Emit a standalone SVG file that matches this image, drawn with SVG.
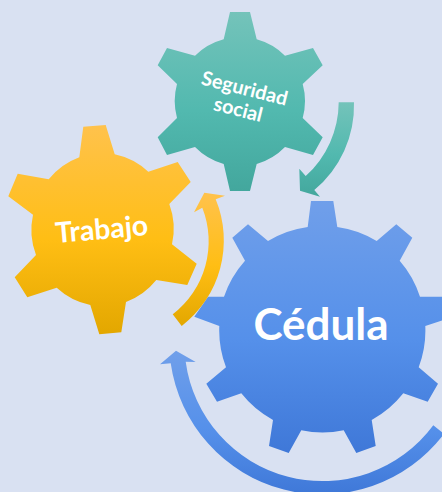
<svg xmlns="http://www.w3.org/2000/svg" width="442" height="492" viewBox="0 0 442 492">
<style>
text{font-family:"Lato","Open Sans","Liberation Sans",sans-serif;font-weight:700;fill:#fff;text-anchor:middle}
</style>
<defs>
<linearGradient id="gt" x1="0" y1="0" x2="0" y2="1"><stop offset="0" stop-color="#74c3ba"/><stop offset=".55" stop-color="#52b9af"/><stop offset="1" stop-color="#43a79d"/></linearGradient>
<linearGradient id="gy" x1="0" y1="0" x2="0" y2="1"><stop offset="0" stop-color="#ffc24c"/><stop offset=".55" stop-color="#ffbe14"/><stop offset="1" stop-color="#e3a700"/></linearGradient>
<linearGradient id="gb" x1="0" y1="0" x2="0" y2="1"><stop offset="0" stop-color="#709fea"/><stop offset=".55" stop-color="#5590ea"/><stop offset="1" stop-color="#3f78d8"/></linearGradient>
</defs>
<rect width="442" height="492" fill="#d9e1f2"/>
<g id="seguridad-social">
<path fill="url(#gt)" d="M230 12H250L256.700 39.300A64.500 64.500 0 0 1 285 55.700L313 48L322.700 65.300L302.700 84A64.500 64.500 0 0 1 302.700 118L322.700 137.300L313 155L285 147A64.500 64.500 0 0 1 256.700 164L250 191H230L223.700 164A64.500 64.500 0 0 1 195 147L167 155L157.700 137.300L177 118A64.500 64.500 0 0 1 177 84L157.700 65.300L167 48L195 55.700A64.500 64.500 0 0 1 223.700 39.300Z"/>
<text font-size="19.800" transform="translate(243 95) rotate(14)">Seguridad</text>
<text font-size="19.800" transform="translate(236.500 116) rotate(14)">social</text>
</g>
<g id="trabajo">
<path fill="url(#gy)" d="M83.300 126.700L105.700 125L114.700 154.300A71 71 0 0 1 148.300 171.700L177.700 162L190.700 182L169.300 204A71 71 0 0 1 172 244.300L196.700 263.700L187.300 285L156.300 280A71 71 0 0 1 126 302L121.300 332.300L99.300 334.300L90.300 305A71 71 0 0 1 56.700 287.700L27.300 297.300L14.700 277.300L36 255A71 71 0 0 1 33 214.700L8.300 196.300L17.700 173.700L48.700 179.300A71 71 0 0 1 79.300 157.300Z"/>
<text font-size="28.400" transform="translate(102.500 239) rotate(-5)">Trabajo</text>
</g>
<g id="cedula">
<path fill="url(#gb)" d="M311 201H333.300L337.300 227A103.500 103.500 0 0 1 376.700 241L396.300 224.300L412.300 237.700L399.700 260.700A103.500 103.500 0 0 1 420 296.700H456V316L425.300 326A103.500 103.500 0 0 1 418.700 367.300L438 383.700L427.700 401.700L403.300 393.300A103.500 103.500 0 0 1 371.700 420L375.700 446L356.300 453L343.700 430.300A103.500 103.500 0 0 1 301.300 430.300L288.700 453L269 446L273 420A103.500 103.500 0 0 1 241.300 393.300L217 401.700L206.300 383.700L226 367.300A103.500 103.500 0 0 1 219.300 326L194.300 316.700L208 296.700H224A103.500 103.500 0 0 1 245 260.700L232.300 237.700L248 224.300L268 241A103.500 103.500 0 0 1 307.700 227Z"/>
<text font-size="44" x="321" y="340">Cédula</text>
</g>
<g id="connectors">
<path fill="url(#gt)" d="M354 102.300H338.700A100 100 0 0 1 305.700 176L299.300 168.700L300 190.700L320 196.700L314.300 190A110 110 0 0 0 354 102.300Z"/>
<path fill="url(#gy)" d="M172.700 314.300L181.700 326A108 108 0 0 0 215.700 199.300L225 195.700L204.300 192.700L194 212.300L202.300 207.700A92 92 0 0 1 172.700 314.300Z"/>
<path fill="url(#gb)" d="M433.300 425.300L444 434A153 153 0 0 1 170.700 363.300L160 364.300L176 350.700L195.700 362L185.700 361.700A138 138 0 0 0 433.300 425.300Z"/>
</g>
</svg>
